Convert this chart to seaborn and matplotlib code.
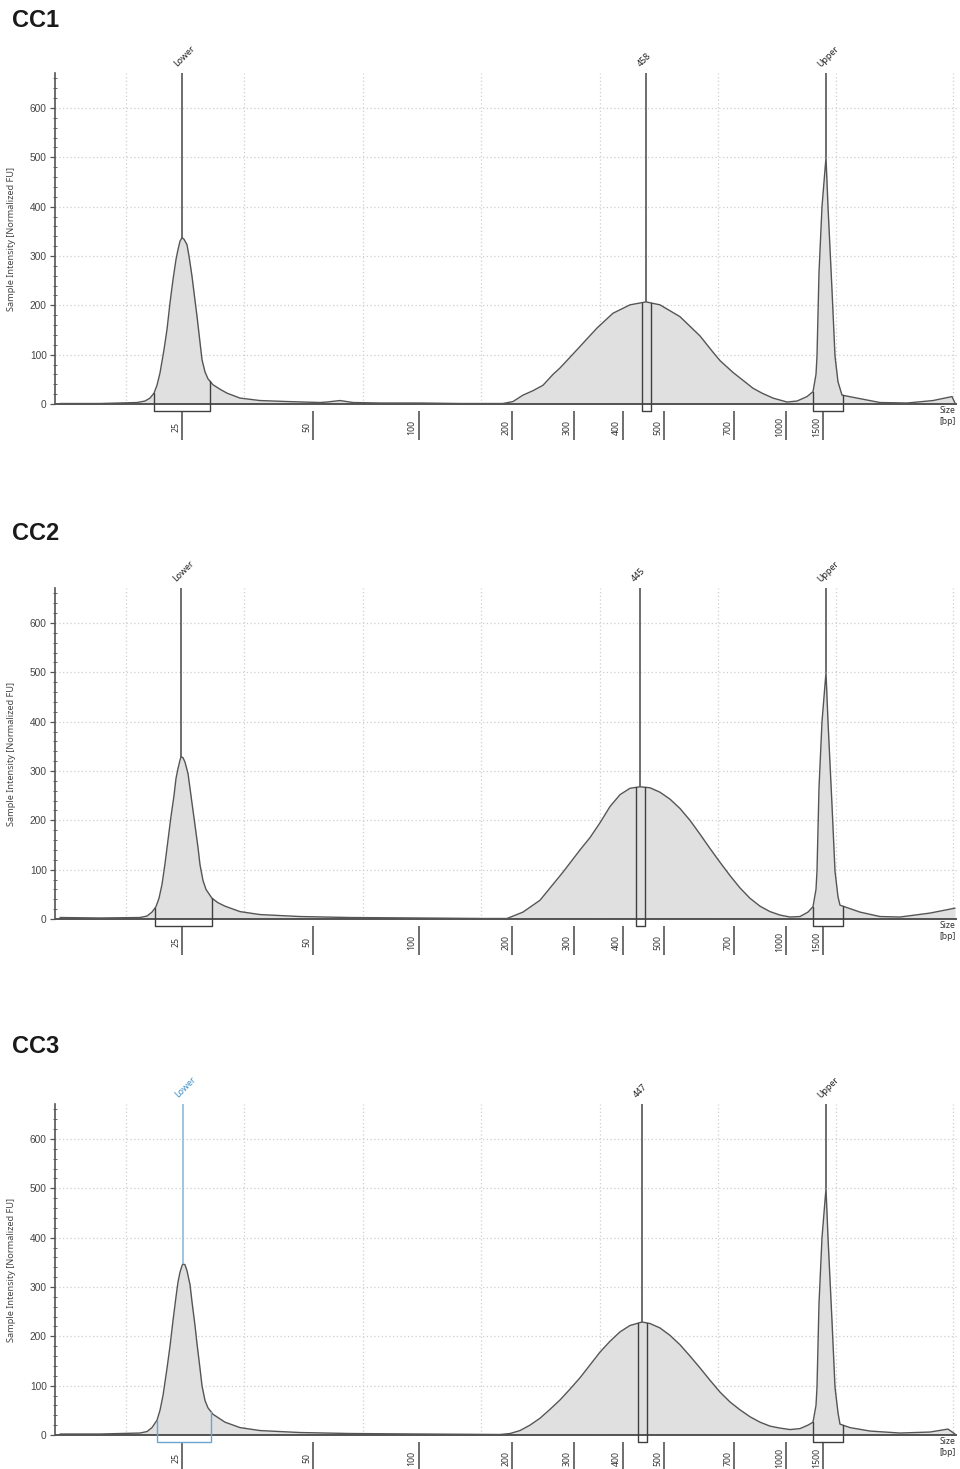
import numpy as np
import pandas as pd
import matplotlib
matplotlib.use("Agg")
import matplotlib.pyplot as plt
import seaborn as sns

# ---------------- data ----------------
samples = ["CC1", "CC2", "CC3"]

size_tick_labels = ["25", "50", "100", "200", "300", "400", "500", "700", "1000", "1500"]
size_tick_pos = [127, 258, 363.5, 457, 519, 568, 609, 679, 731, 768]   # migration position
grid_pos = [71, 189, 308, 426, 545, 663, 781, 898]
y_ticks = [0, 100, 200, 300, 400, 500, 600]

cc1_pos = [5, 45, 82, 90, 95, 99, 102, 105, 109, 112, 115, 118, 121, 123, 125, 127, 129, 132,
           134, 137, 140, 142, 145, 147, 150, 153, 158, 165, 172, 185,
           205, 232, 265, 272, 285, 298, 325, 365, 405, 448, 458, 468, 478, 488, 498, 505, 522,
           542, 558, 575, 591, 605, 625, 645, 658, 665, 678, 698, 707, 718, 732, 742, 752, 758,
           761, 762, 764, 767, 771, 773, 777, 780, 783, 787, 802, 825, 852, 878, 897, 900]
cc1_fu = [1, 1, 3, 6, 12, 22, 38, 63, 110, 151, 205, 252, 293, 313, 330, 337, 334, 323,
          300, 259, 210, 178, 125, 90, 65, 51, 39, 30, 22, 12,
          7, 5, 3, 4, 7, 3, 2, 2, 1, 1, 5, 18, 27, 38, 60, 73, 110,
          154, 184, 201, 207, 201, 177, 138, 105, 88, 64, 32, 22, 12, 4, 6, 15, 25,
          60, 97, 266, 400, 500, 400, 231, 97, 45, 18, 12, 3, 2, 7, 15, 2]

cc2_pos = [5, 45, 85, 92, 97, 101, 104, 107, 110, 113, 116, 119, 121, 123, 125, 126, 128, 130,
           133, 135, 138, 140, 143, 145, 148, 151, 157, 163, 170, 185,
           205, 245, 295, 365, 430, 452, 468, 485, 508, 525, 535, 545, 555, 565, 575, 585, 595,
           605, 615, 625, 635, 645, 655, 665, 675, 685, 695, 705, 715, 725, 735, 745, 753, 758,
           761, 762, 764, 767, 771, 773, 777, 780, 783, 785, 805, 825, 845, 875, 900]
cc2_fu = [3, 2, 3, 6, 14, 25, 42, 70, 112, 160, 208, 250, 285, 305, 322, 329, 327, 318,
          295, 265, 220, 190, 145, 110, 78, 60, 42, 33, 26, 15,
          9, 5, 3, 2, 1, 1, 14, 38, 95, 140, 165, 195, 228, 252, 265, 268, 266,
          257, 243, 224, 200, 172, 143, 115, 88, 63, 42, 26, 15, 8, 4, 5, 14, 25,
          60, 97, 266, 400, 500, 400, 231, 97, 45, 28, 14, 5, 4, 12, 22]

cc3_pos = [5, 45, 85, 92, 97, 102, 105, 108, 112, 115, 118, 121, 123, 125, 127, 128, 130, 132,
           135, 137, 140, 142, 145, 147, 150, 153, 158, 164, 170, 185,
           205, 245, 295, 365, 445, 455, 465, 475, 485, 495, 505, 515, 525, 535, 545, 555, 565,
           575, 587, 595, 605, 615, 625, 635, 645, 655, 665, 675, 685, 695, 705, 715, 725, 735,
           745, 753, 758, 761, 762, 764, 767, 771, 773, 777, 780, 783, 785, 795, 815, 845, 875,
           893, 900]
cc3_fu = [2, 2, 4, 7, 15, 30, 50, 80, 135, 180, 232, 280, 310, 330, 343, 347, 345, 333,
          305, 270, 222, 185, 135, 100, 70, 55, 42, 34, 26, 15,
          9, 5, 3, 2, 1, 3, 9, 20, 34, 52, 71, 93, 116, 142, 168, 190, 209,
          222, 229, 226, 217, 202, 183, 160, 136, 111, 87, 67, 51, 37, 26, 18, 14, 11,
          13, 20, 26, 60, 97, 266, 400, 500, 400, 231, 97, 45, 22, 15, 8, 4, 6,
          12, 2]

peak_names = {"CC1": ["Lower", "458", "Upper"],
              "CC2": ["Lower", "445", "Upper"],
              "CC3": ["Lower", "447", "Upper"]}
peak_pos = {"CC1": [127, 591, 771], "CC2": [126, 585, 771], "CC3": [128, 587, 771]}
region_lo = {"CC1": [99, 586.5, 758], "CC2": [100, 580.5, 758], "CC3": [102, 582.5, 758]}
region_hi = {"CC1": [155, 595.5, 788], "CC2": [157, 589.5, 788], "CC3": [156, 591.5, 788]}

traces = {"CC1": (cc1_pos, cc1_fu), "CC2": (cc2_pos, cc2_fu), "CC3": (cc3_pos, cc3_fu)}

# ---------------- style ----------------
sns.set_theme(style="white")
plt.rcParams["font.family"] = ["Liberation Sans", "DejaVu Sans"]

W, H = 960, 1469
fig = plt.figure(figsize=(W / 100, H / 100), dpi=100)

YMIN, YMAX = -15, 670
zero_px = [404, 919, 1435]
title_base = [27, 540, 1053]
px_per_unit = 49.33 / 100
ax_h_px = (YMAX - YMIN) * px_per_unit
left_px, width_px = 55, 902

line_col = "#555555"
fill_col = "#e0e0e0"
grid_col = "#cfcfcf"
tick_col = "#6e6e6e"
small_font = ["Noto Sans", "DejaVu Sans"]

for i, s in enumerate(samples):
    bottom_px = zero_px[i] - YMIN * px_per_unit
    ax = fig.add_axes([left_px / W, 1 - bottom_px / H, width_px / W, ax_h_px / H])
    pos, fu = traces[s]
    df = pd.DataFrame({"pos": pos, "fu": fu})

    ax.set_xlim(0, 902)
    ax.set_ylim(YMIN, YMAX)

    # grid
    ax.hlines(y_ticks[1:], 0, 902, colors=grid_col, linestyles=(0, (1, 2)), lw=0.9, zorder=0)
    ax.vlines(grid_pos, 0, YMAX, colors=grid_col, linestyles=(0, (1, 2)), lw=0.9, zorder=0)

    # trace
    ax.fill_between(df["pos"], 0, df["fu"], color=fill_col, lw=0, zorder=1)
    sns.lineplot(data=df, x="pos", y="fu", ax=ax, color=line_col, lw=1.0, zorder=3,
                 estimator=None, sort=False)
    ax.axhline(0, color="#3a3a3a", lw=1.2, zorder=2)

    # peaks + regions
    for j, name in enumerate(peak_names[s]):
        px = peak_pos[s][j]
        is_blue = (s == "CC3" and name == "Lower")
        pcol = "#8fbcd9" if is_blue else "#555555"
        bcol = "#6aa6d1" if is_blue else "#3f3f3f"
        tcol = "#3d8fc6" if is_blue else "#222222"
        top = np.interp(px, pos, fu)
        ax.vlines(px, top, YMAX, colors=pcol, lw=1.2, zorder=4)
        x1, x2 = region_lo[s][j], region_hi[s][j]
        y1, y2 = np.interp(x1, pos, fu), np.interp(x2, pos, fu)
        ax.plot([x1, x1, x2, x2], [y1, -14, -14, y2], color=bcol, lw=1.0,
                clip_on=False, zorder=5)
        ax.annotate(name, xy=(px, YMAX), xytext=(-2.5, 3.5), textcoords="offset points",
                    rotation=45, rotation_mode="anchor", ha="left", va="bottom",
                    fontsize=6.4, color=tcol, family=small_font, annotation_clip=False)

    # size ticks under the axis
    ax.vlines(size_tick_pos, -14, -73, colors=tick_col, lw=1.4, clip_on=False)
    for tp, tl in zip(size_tick_pos, size_tick_labels):
        ax.annotate(tl, xy=(tp, -47), xytext=(-4.6, 0), textcoords="offset points",
                    rotation=90, ha="center", va="center", fontsize=6.3, color="#333333",
                    family=small_font, annotation_clip=False)
    ax.annotate("Size\n[bp]", xy=(902, -5), xytext=(-1, 0), textcoords="offset points",
                ha="right", va="top", fontsize=6.2, color="#333333", linespacing=1.2,
                family=small_font, annotation_clip=False)

    # y axis
    for sp in ["top", "right", "bottom"]:
        ax.spines[sp].set_visible(False)
    ax.spines["left"].set_bounds(0, YMAX)
    ax.spines["left"].set_color("#555555")
    ax.spines["left"].set_linewidth(1.2)
    ax.set_xticks([])
    ax.set_yticks(y_ticks)
    ax.set_yticks(np.arange(0, YMAX, 20), minor=True)
    ax.tick_params(axis="y", which="major", direction="out", length=3.5, width=0.9,
                   colors="#555555", labelcolor="#444444", labelsize=7.3, pad=2.5, left=True)
    ax.tick_params(axis="y", which="minor", direction="inout", length=2.5, width=0.7,
                   colors="#666666", left=True)
    ax.set_xlabel("")
    ax.set_ylabel("Sample Intensity [Normalized FU]", fontsize=6.6, color="#444444",
                  family=small_font)
    ax.yaxis.set_label_coords(-(left_px - 16) / width_px, 0.51)

    fig.text(12 / W, 1 - title_base[i] / H, s, fontsize=17, fontweight="bold",
             color="#1a1a1a", va="baseline", ha="left")

fig.savefig("out.png", dpi=100, facecolor="white")
